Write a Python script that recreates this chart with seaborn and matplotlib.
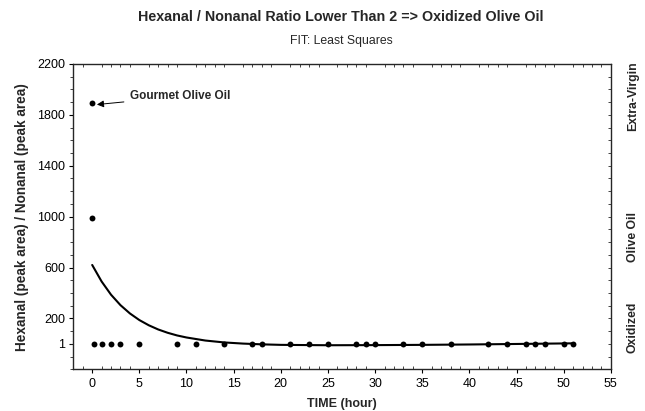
import numpy as np
import pandas as pd
import seaborn as sns
import matplotlib.pyplot as plt
from matplotlib.ticker import MultipleLocator

# measured points (hour, hexanal/nonanal ratio)
time_h = [0, 0, 0.2, 1, 2, 3, 5, 9, 11, 14, 17, 18, 21, 23, 25, 28, 29, 30,
          33, 35, 38, 42, 44, 46, 47, 48, 50, 51]
ratio = [1890, 990, 1, 1, 1, 1, 1, 1, 1, 1, 1, 1, 1, 1, 1, 1, 1, 1,
         1, 1, 1, 1, 1, 1, 1, 1, 1, 1]

# least squares fit curve
fit_t = [0, 1, 2, 3, 4, 5, 6, 7, 8, 9, 10, 12, 14, 16, 18, 20, 25, 30, 35, 40, 45, 51]
fit_y = [620, 490, 386, 304, 239, 187, 146, 113, 87, 66, 50, 26, 11, 2, -4, -8,
         -11, -10, -8, -5, -1, 4]

yticks = [1, 200, 600, 1000, 1400, 1800, 2200]
ytick_labels = ['1', '200', '600', '1000', '1400', '1800', '2200']
xticks = list(range(0, 56, 5))

pts = pd.DataFrame({'TIME': time_h, 'Ratio': ratio})
fit = pd.DataFrame({'TIME': fit_t, 'Ratio': fit_y})

sns.set_style('ticks')
plt.rcParams['font.family'] = ['Liberation Sans', 'DejaVu Sans']

fig = plt.figure(figsize=(6.45, 4.11), dpi=100)
ax = fig.add_axes([0.1137, 0.1015, 0.8333, 0.7428])

sns.lineplot(data=fit, x='TIME', y='Ratio', color='black', linewidth=1.5, ax=ax)
sns.scatterplot(data=pts, x='TIME', y='Ratio', color='black', s=18,
                edgecolor='black', linewidth=0, ax=ax, zorder=3)

ax.set_xlim(-2, 55)
ax.set_ylim(-200, 2200)
ax.set_xticks(xticks)
ax.set_yticks(yticks)
ax.set_yticklabels(ytick_labels)
ax.xaxis.set_minor_locator(MultipleLocator(1))
ax.yaxis.set_minor_locator(MultipleLocator(100))
ax.tick_params(axis='both', which='major', labelsize=9, length=3, width=0.8,
               colors='black', pad=3)
ax.tick_params(axis='x', which='minor', direction='in', length=2, width=0.6,
               top=True)
ax.tick_params(axis='y', which='minor', direction='out', length=2, width=0.6)
ax.tick_params(axis='x', which='major', top=False)
for s in ax.spines.values():
    s.set_linewidth(0.9)
    s.set_color('black')

# minor ticks on the right side pointing in
ax2 = ax.twinx()
ax2.set_ylim(-200, 2200)
ax2.yaxis.set_major_locator(MultipleLocator(100))
ax2.tick_params(axis='y', which='major', direction='in', length=2, width=0.6,
                labelright=False)

ax.set_xlabel('TIME (hour)', fontsize=9, fontweight='bold', labelpad=6)
ax.set_ylabel('Hexanal (peak area) / Nonanal (peak area)', fontsize=9.8,
              fontweight='bold', labelpad=6)

fig.text(0.528, 0.958, 'Hexanal / Nonanal Ratio Lower Than 2 => Oxidized Olive Oil',
         ha='center', va='center', fontsize=10.3, fontweight='bold')
fig.text(0.53, 0.9, 'FIT: Least Squares', ha='center', va='center', fontsize=8.8)

ax.annotate('Gourmet Olive Oil', xy=(0.35, 1880), xytext=(4.0, 1945),
            fontsize=8.5, fontweight='bold', ha='left', va='center',
            arrowprops=dict(arrowstyle='-|>', color='black', lw=0.7,
                            mutation_scale=10, shrinkA=2, shrinkB=1))

# quality labels on the right
fig.text(0.981, 1 - 96 / 411, 'Extra-Virgin', rotation=90, ha='center', va='center',
         fontsize=8.8, fontweight='bold')
fig.text(0.981, 1 - 237 / 411, 'Olive Oil', rotation=90, ha='center', va='center',
         fontsize=8.8, fontweight='bold')
fig.text(0.981, 1 - 327 / 411, 'Oxidized', rotation=90, ha='center', va='center',
         fontsize=8.8, fontweight='bold')

fig.savefig('out.png', dpi=100)
